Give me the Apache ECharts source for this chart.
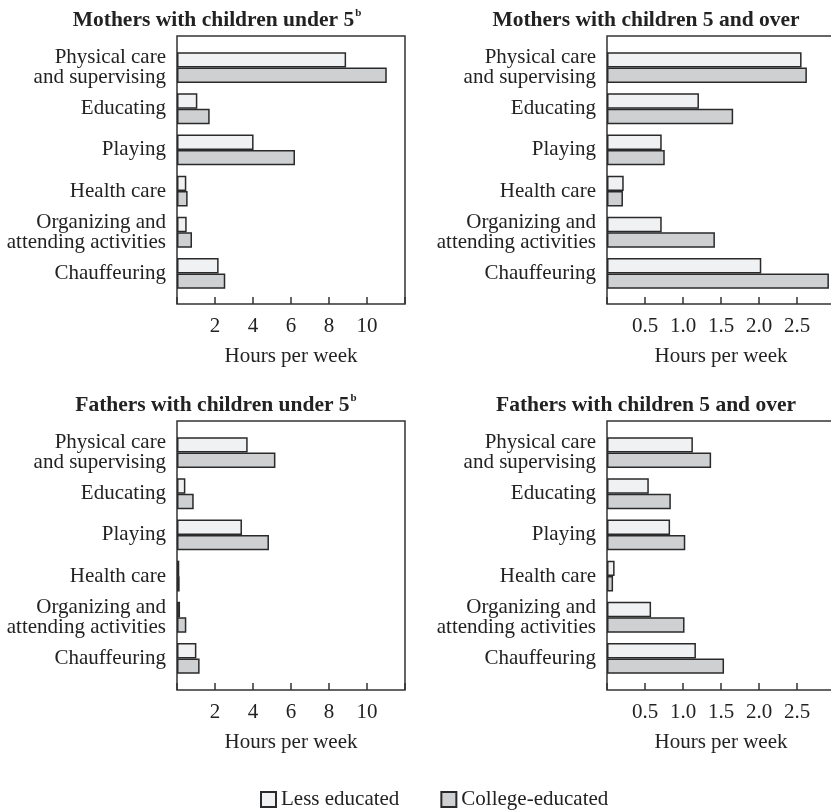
<!DOCTYPE html>
<html><head><meta charset="utf-8">
<script src="https://cdn.jsdelivr.net/npm/echarts@6/dist/echarts.min.js"></script>
<style>html,body{margin:0;padding:0;background:#fff;overflow:hidden;width:831px;height:811px}#c{width:840px;height:811px}</style>
</head><body><div id="c"></div>
<script>
const categories = ['Physical care\nand supervising','Educating','Playing','Health care','Organizing and\nattending activities','Chauffeuring'];
const seriesNames = ['Less educated','College-educated'];
const panelTitles = ['Mothers with children under 5','Mothers with children 5 and over','Fathers with children under 5','Fathers with children 5 and over'];
const panelSup = ['b','','b',''];
const axisName = 'Hours per week';
const motherUnder5Less    = [8.9, 1.07, 4.03, 0.49, 0.51, 2.19];
const motherUnder5College = [11.04, 1.72, 6.21, 0.56, 0.79, 2.54];
const mother5PlusLess     = [2.56, 1.21, 0.72, 0.22, 0.72, 2.03];
const mother5PlusCollege  = [2.63, 1.66, 0.76, 0.21, 1.42, 2.92];
const fatherUnder5Less    = [3.72, 0.44, 3.42, 0.12, 0.16, 1.02];
const fatherUnder5College = [5.18, 0.88, 4.84, 0.14, 0.49, 1.19];
const father5PlusLess     = [1.13, 0.55, 0.83, 0.10, 0.58, 1.17];
const father5PlusCollege  = [1.37, 0.84, 1.03, 0.08, 1.02, 1.54];
const axisMax = [12, 3, 12, 3];
const axisInterval = [2, 0.5, 2, 0.5];

const FONT = 'Liberation Serif, Times New Roman, serif';
const INK = '#222';
const colors = ['#f0f1f3', '#cfd0d2'];
const panelData = [
  [motherUnder5Less, motherUnder5College],
  [mother5PlusLess, mother5PlusCollege],
  [fatherUnder5Less, fatherUnder5College],
  [father5PlusLess, father5PlusCollege]
];
const layout = [
  {left: 177, frameTop: 36, frameH: 268, dataTop: 47, titleX: 217, titleTop: 8},
  {left: 607, frameTop: 36, frameH: 268, dataTop: 47, titleX: 646, titleTop: 8},
  {left: 177, frameTop: 421, frameH: 269, dataTop: 432, titleX: 216, titleTop: 393},
  {left: 607, frameTop: 421, frameH: 269, dataTop: 432, titleX: 646, titleTop: 393}
];
const W = 228, DH = 247;

const grid = [], xAxis = [], yAxis = [], series = [], title = [];
layout.forEach((p, i) => {
  const max = axisMax[i], step = axisInterval[i];
  grid.push({left: p.left, top: p.frameTop, width: W, height: p.frameH, show: true,
    borderColor: '#333', borderWidth: 1.5, backgroundColor: 'transparent'});
  grid.push({left: p.left, top: p.dataTop, width: W, height: DH, show: false});
  const fi = 2 * i, di = 2 * i + 1;
  xAxis.push({gridIndex: fi, type: 'value', min: 0, max: max, interval: step,
    axisLine: {show: false}, splitLine: {show: false},
    axisTick: {show: true, inside: true, length: 7, lineStyle: {color: '#333', width: 1.5}},
    axisLabel: {margin: 12, fontFamily: FONT, fontSize: 21, color: INK,
      formatter: v => (v <= 0 || v >= max - 1e-9) ? '' : (step < 1 ? v.toFixed(1) : String(v))},
    name: axisName, nameLocation: 'middle', nameGap: 42,
    nameTextStyle: {fontFamily: FONT, fontSize: 21, color: INK}});
  yAxis.push({gridIndex: fi, type: 'value', show: false, min: 0, max: 1});
  xAxis.push({gridIndex: di, type: 'value', min: 0, max: max, show: false});
  yAxis.push({gridIndex: di, type: 'category', inverse: true, data: categories,
    axisLine: {show: false}, axisTick: {show: false},
    axisLabel: {margin: 11, fontFamily: FONT, fontSize: 21, lineHeight: 20, color: INK, padding: [5, 0, 0, 0]}});
  seriesNames.forEach((n, k) => {
    series.push({name: n, type: 'bar', xAxisIndex: di, yAxisIndex: di,
      data: panelData[i][k], barGap: '0%', barCategoryGap: '25%',
      itemStyle: {color: colors[k], borderColor: '#2a2a2a', borderWidth: 1.5},
      emphasis: {disabled: true}, animation: false});
  });
  title.push({text: '{t|' + panelTitles[i] + '}' + (panelSup[i] ? '{s|' + panelSup[i] + '}' : ''),
    left: p.titleX, top: p.titleTop, textAlign: 'center', padding: 0,
    textStyle: {rich: {
      t: {fontFamily: FONT, fontSize: 21.5, fontWeight: 'bold', color: INK, lineHeight: 24},
      s: {fontFamily: FONT, fontSize: 11, color: INK, verticalAlign: 'top', lineHeight: 24, padding: [0, 0, 0, 1]}
    }}});
});

const chart = echarts.init(document.getElementById('c'), null, {renderer: 'canvas'});
chart.setOption({
  animation: false,
  title: title,
  grid: grid, xAxis: xAxis, yAxis: yAxis, series: series,
  legend: {data: seriesNames, left: 260, top: 789, padding: 0, itemWidth: 15, itemHeight: 15,
    itemGap: 41, icon: 'rect', selectedMode: false,
    textStyle: {fontFamily: FONT, fontSize: 21, color: INK, padding: [0, 0, 0, 0]}}
});
</script></body></html>
